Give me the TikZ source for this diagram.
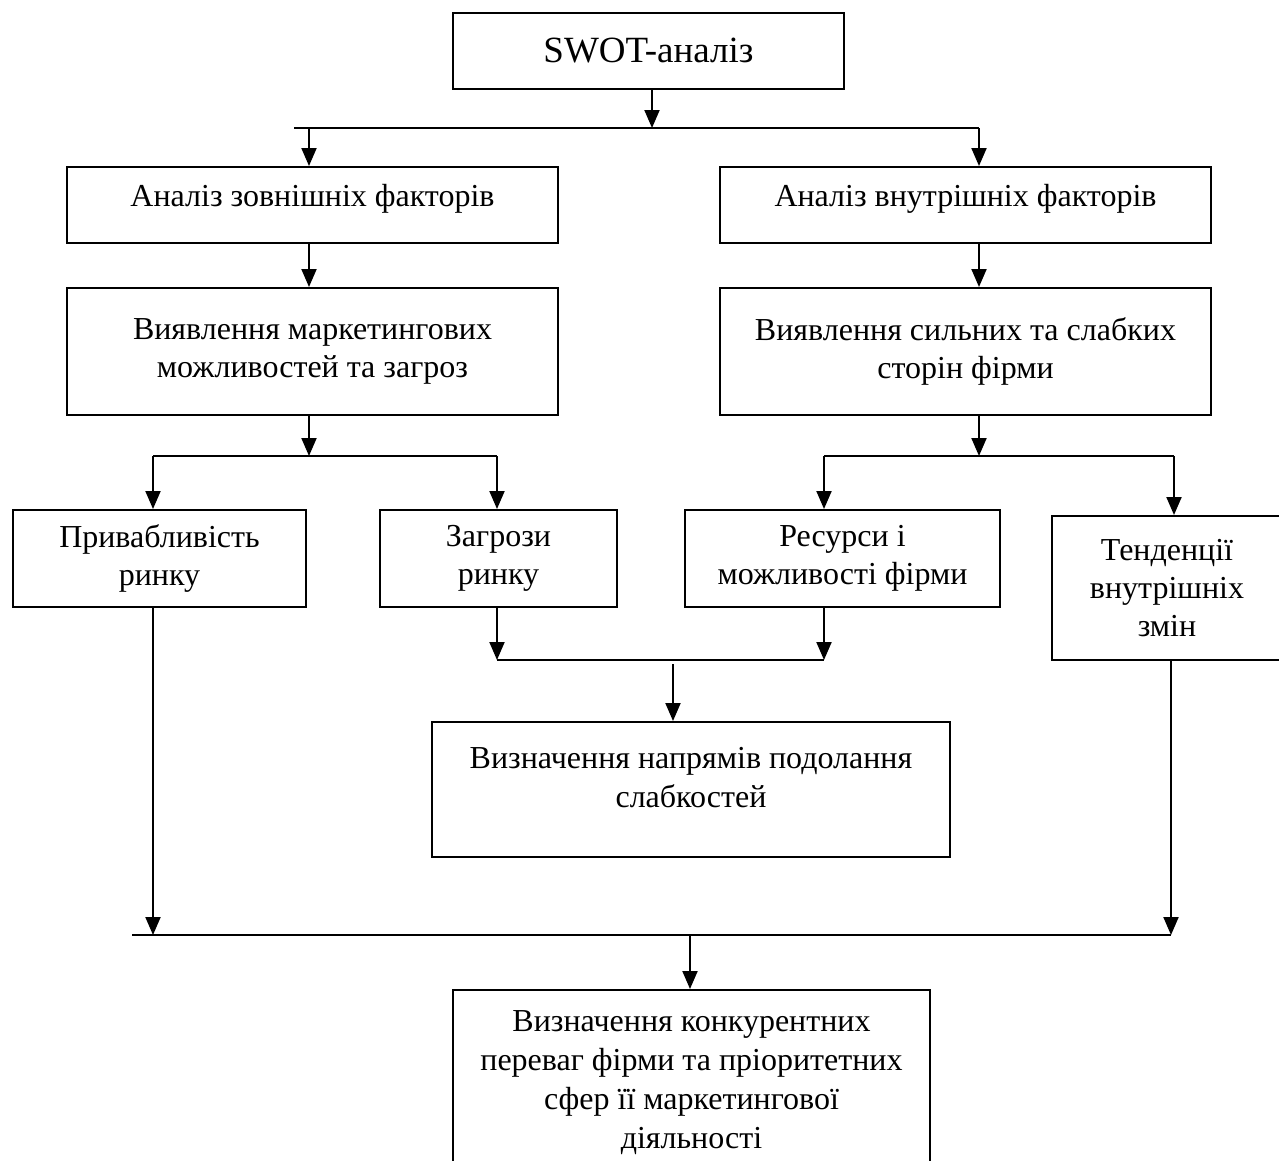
\documentclass[tikz,border=0pt]{standalone}
\usepackage{fontspec}
\setmainfont{Liberation Serif}
\usetikzlibrary{arrows.meta}
\begin{document}
\begin{tikzpicture}[x=1pt,y=-1pt,
  box/.style={draw, line width=2pt, inner sep=0pt, align=center, font=\fontsize{32}{38}\selectfont},
  txt/.style={inner sep=0pt, align=center, font=\fontsize{32}{39}\selectfont},
  con/.style={line width=2pt},
  arr/.style={con, -{Triangle[length=18pt,width=15pt]}}]
\useasboundingbox (0,0) rectangle (1279,1160);
\fill[white] (0,0) rectangle (1279,1160);
% boxes
\node[box, minimum width=391pt, minimum height=76pt, font=\fontsize{37}{40}\selectfont] (swot) at (648.5,51) {SWOT-аналіз};
\node[box, minimum width=491pt, minimum height=76pt] (ext) at (312.5,205) {};
\node[txt] (extt) at (312.5,199) {Аналіз зовнішніх факторів};
\node[box, minimum width=491pt, minimum height=76pt] (int) at (965.5,205) {};
\node[txt] (intt) at (965.5,199) {Аналіз внутрішніх факторів};
\node[box, minimum width=491pt, minimum height=127pt] (extd) at (312.5,351.5) {Виявлення маркетингових\\можливостей та загроз};
\node[box, minimum width=491pt, minimum height=127pt] (intd) at (965.5,351.5) {Виявлення сильних та слабких\\сторін фірми};
\node[box, minimum width=293pt, minimum height=97pt] (attr) at (159.5,558.5) {Привабливість\\ринку};
\node[box, minimum width=237pt, minimum height=97pt] (thr) at (498.5,558.5) {Загрози\\ринку};
\node[box, minimum width=315pt, minimum height=97pt] (res) at (842.5,558.5) {Ресурси і\\можливості фірми};
\node[box, minimum width=230pt, minimum height=144pt] (tend) at (1167,588) {Тенденції\\внутрішніх\\змін};
\node[box, minimum width=518pt, minimum height=135pt] (napr) at (691,789.5) {};
\node[txt] (naprt) at (691,777.5) {Визначення напрямів подолання\\слабкостей};
\node[box, minimum width=477pt, minimum height=240pt] (fin) at (691.5,1110) {};
\node[txt] (fint) at (691.5,1083) {Визначення конкурентних\\переваг фірми та пріоритетних\\сфер її маркетингової\\діяльності};
% bus coordinates
\coordinate (b0L) at (294,128);
\coordinate (b0a) at (309,128);
\coordinate (b0R) at (979,128);
\coordinate (b1L) at (153,456);
\coordinate (b1m) at (309,456);
\coordinate (b1R) at (497,456);
\coordinate (b2L) at (824,456);
\coordinate (b2m) at (979,456);
\coordinate (b2R) at (1174,456);
\coordinate (b3L) at (497,660);
\coordinate (b3m) at (673,660);
\coordinate (b3R) at (824,660);
\coordinate (b4L) at (132,935);
\coordinate (b4a) at (153,935);
\coordinate (b4m) at (690,935);
\coordinate (b4b) at (1171,935);
% connectors
\draw[arr] (swot.south -| 652,0) -- (b0R -| 652,0);
\draw[con] (b0L) -- (b0R);
\draw[arr] (b0a) -- (b0a |- ext.north);
\draw[arr] (b0R) -- (b0R |- int.north);
\draw[arr] (b0a |- ext.south) -- (b0a |- extd.north);
\draw[arr] (b0R |- int.south) -- (b0R |- intd.north);
\draw[arr] (b1m |- extd.south) -- (b1m);
\draw[con] (b1L) -- (b1R);
\draw[arr] (b1L) -- (b1L |- attr.north);
\draw[arr] (b1R) -- (b1R |- thr.north);
\draw[arr] (b2m |- intd.south) -- (b2m);
\draw[con] (b2L) -- (b2R);
\draw[arr] (b2L) -- (b2L |- res.north);
\draw[arr] (b2R) -- (b2R |- tend.north);
\draw[arr] (b3L |- thr.south) -- (b3L);
\draw[arr] (b3R |- res.south) -- (b3R);
\draw[con] (b3L) -- (b3R);
\draw[arr] ([yshift=-4pt]b3m) -- (b3m |- napr.north);
\draw[arr] (b4a |- attr.south) -- (b4a);
\draw[arr] (b4b |- tend.south) -- (b4b);
\draw[con] (b4L) -- (b4b);
\draw[arr] (b4m) -- (b4m |- fin.north);
\end{tikzpicture}
\end{document}
